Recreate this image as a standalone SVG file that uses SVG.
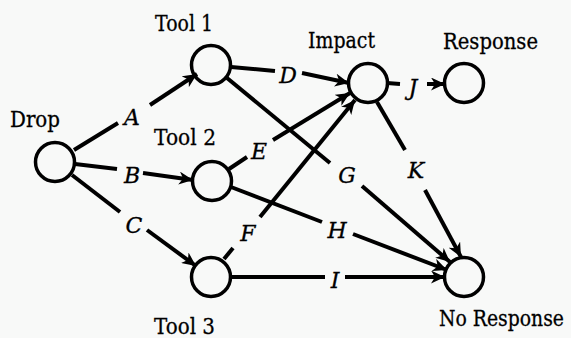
<svg xmlns="http://www.w3.org/2000/svg" width="571" height="338" viewBox="0 0 571 338">
  <style>
    .node { fill: none; stroke: #000; stroke-width: 3.5; }
    .name { font-size: 23px; fill: #000; stroke: #000; stroke-width: 0.3; }
    .edge { stroke: #000; stroke-width: 4; fill: none; }
    .lbl { font-size: 22px; font-style: italic; fill: #000; stroke: #000; stroke-width: 0.3; text-anchor: middle; }
  </style>
  <defs>
    <marker id="arrow" markerUnits="userSpaceOnUse" markerWidth="15" markerHeight="13" refX="14" refY="6.5" orient="auto">
      <path d="M0,0 L14,6.5 L0,13 L4,6.5 z" fill="#000"/>
    </marker>
  </defs>
  <rect width="571" height="338" fill="#f8f9f8"/>

  <!-- connectors: each drawn in two pieces around its italic label -->
  <g id="connectors" font-family="DejaVu Serif, serif">
    <g id="edge-A">
      <line class="edge" x1="74" y1="150" x2="118" y2="123"/>
      <line class="edge" x1="150" y1="105" x2="197" y2="74" marker-end="url(#arrow)"/>
      <text class="lbl" x="132" y="125">A</text>
    </g>
    <g id="edge-B">
      <line class="edge" x1="75" y1="164" x2="117" y2="169"/>
      <line class="edge" x1="143" y1="173" x2="193" y2="180" marker-end="url(#arrow)"/>
      <text class="lbl" x="132" y="183">B</text>
    </g>
    <g id="edge-C">
      <line class="edge" x1="72" y1="175" x2="120" y2="212"/>
      <line class="edge" x1="147" y1="230" x2="196" y2="266" marker-end="url(#arrow)"/>
      <text class="lbl" x="134" y="233">C</text>
    </g>
    <g id="edge-D">
      <line class="edge" x1="231" y1="67" x2="275" y2="71"/>
      <line class="edge" x1="302" y1="73" x2="349" y2="83" marker-end="url(#arrow)"/>
      <text class="lbl" x="288" y="83">D</text>
    </g>
    <g id="edge-E">
      <line class="edge" x1="229" y1="169" x2="247" y2="157"/>
      <line class="edge" x1="273" y1="140" x2="350" y2="93" marker-end="url(#arrow)"/>
      <text class="lbl" x="259" y="159">E</text>
    </g>
    <g id="edge-F">
      <line class="edge" x1="224" y1="259" x2="233" y2="248"/>
      <line class="edge" x1="260" y1="217" x2="355" y2="100" marker-end="url(#arrow)"/>
      <text class="lbl" x="248" y="241">F</text>
    </g>
    <g id="edge-G">
      <line class="edge" x1="227" y1="78" x2="330" y2="163"/>
      <line class="edge" x1="362" y1="186" x2="450" y2="262" marker-end="url(#arrow)"/>
      <text class="lbl" x="347" y="183">G</text>
    </g>
    <g id="edge-H">
      <line class="edge" x1="231" y1="187" x2="322" y2="222"/>
      <line class="edge" x1="353" y1="234" x2="447" y2="270" marker-end="url(#arrow)"/>
      <text class="lbl" x="337" y="238">H</text>
    </g>
    <g id="edge-I">
      <line class="edge" x1="230" y1="277" x2="325" y2="277"/>
      <line class="edge" x1="345" y1="277" x2="445" y2="277" marker-end="url(#arrow)"/>
      <text class="lbl" x="335" y="288">I</text>
    </g>
    <g id="edge-J">
      <line class="edge" x1="387" y1="83" x2="400" y2="84"/>
      <line class="edge" x1="427" y1="84" x2="445" y2="84" marker-end="url(#arrow)"/>
      <text class="lbl" x="413" y="95">J</text>
    </g>
    <g id="edge-K">
      <line class="edge" x1="377" y1="102" x2="405" y2="150"/>
      <line class="edge" x1="425" y1="190" x2="461" y2="257" marker-end="url(#arrow)"/>
      <text class="lbl" x="416" y="178">K</text>
    </g>
  </g>

  <!-- nodes -->
  <g id="nodes" font-family="DejaVu Serif, serif">
    <g id="drop">
      <circle class="node" cx="55" cy="162" r="19.5"/>
      <text class="name" x="10" y="127" textLength="50" lengthAdjust="spacingAndGlyphs">Drop</text>
    </g>
    <g id="tool1">
      <circle class="node" cx="211" cy="65" r="19.5"/>
      <text class="name" x="155" y="31" textLength="58" lengthAdjust="spacingAndGlyphs">Tool 1</text>
    </g>
    <g id="tool2">
      <circle class="node" cx="212" cy="181" r="19.5"/>
      <text class="name" x="154" y="145" textLength="62" lengthAdjust="spacingAndGlyphs">Tool 2</text>
    </g>
    <g id="tool3">
      <circle class="node" cx="211" cy="277" r="19.5"/>
      <text class="name" x="154" y="334" textLength="61" lengthAdjust="spacingAndGlyphs">Tool 3</text>
    </g>
    <g id="impact">
      <circle class="node" cx="368" cy="83" r="19.5"/>
      <text class="name" x="308" y="48" textLength="67" lengthAdjust="spacingAndGlyphs">Impact</text>
    </g>
    <g id="response">
      <circle class="node" cx="464" cy="83" r="19.5"/>
      <text class="name" x="443" y="49" textLength="95" lengthAdjust="spacingAndGlyphs">Response</text>
    </g>
    <g id="no-response">
      <circle class="node" cx="464" cy="277" r="19.5"/>
      <text class="name" x="439" y="326" textLength="125" lengthAdjust="spacingAndGlyphs">No Response</text>
    </g>
  </g>
</svg>
